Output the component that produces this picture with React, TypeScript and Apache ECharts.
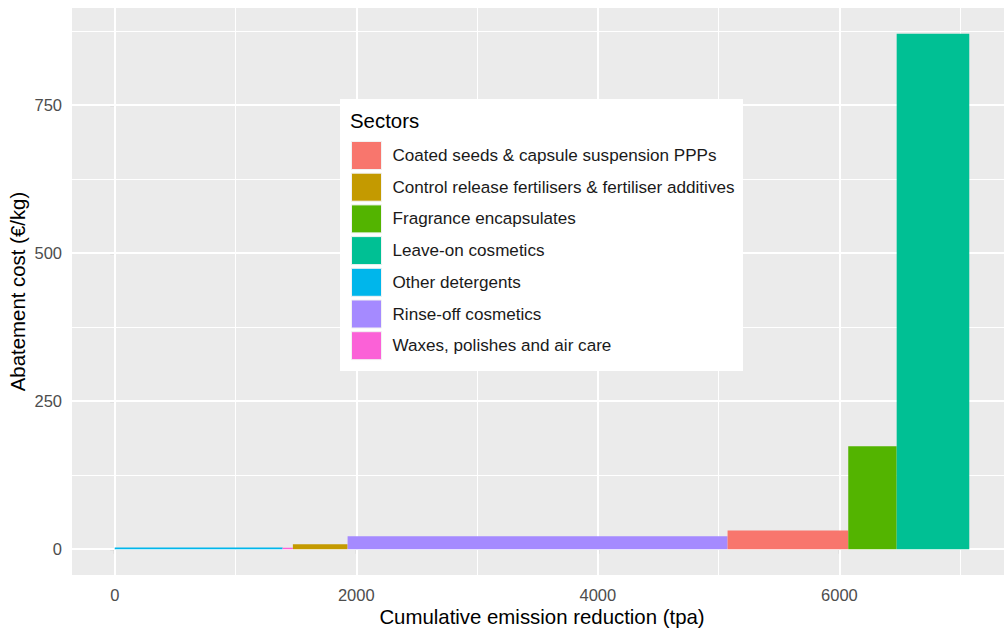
import React, { useEffect, useRef } from 'react';
import * as echarts from 'echarts';

// Sectors in merit order (left to right along the x axis)
const sectors = [
  'Other detergents',
  'Waxes, polishes and air care',
  'Control release fertilisers & fertiliser additives',
  'Rinse-off cosmetics',
  'Coated seeds & capsule suspension PPPs',
  'Fragrance encapsulates',
  'Leave-on cosmetics',
];
// Emission reduction of each sector (tpa) = bar width
const reductions = [1390, 85, 453, 3146, 999, 401, 601];
// Abatement cost (€/kg) = bar height
const costs = [3, 2.5, 8.5, 22, 31.5, 174, 870];

const legendOrder = [
  'Coated seeds & capsule suspension PPPs',
  'Control release fertilisers & fertiliser additives',
  'Fragrance encapsulates',
  'Leave-on cosmetics',
  'Other detergents',
  'Rinse-off cosmetics',
  'Waxes, polishes and air care',
];
const legendColors = ['#F8766D', '#C49A00', '#53B400', '#00C094', '#00B6EB', '#A58AFF', '#FB61D7'];

const xTicks = [0, 2000, 4000, 6000];
const xMinor = [1000, 3000, 5000, 7000];
const yTicks = [0, 250, 500, 750];
const yMinor = [125, 375, 625, 875];

const FONT = '"Liberation Sans", Arial, sans-serif';

export default function App() {
  const ref = useRef<HTMLDivElement>(null);

  useEffect(() => {
    if (!ref.current) return;
    const chart = echarts.init(ref.current, undefined, { renderer: 'svg' });

    const starts: number[] = [];
    let acc = 0;
    reductions.forEach((r) => {
      starts.push(acc);
      acc += r;
    });
    const xEnd = acc;
    const yTop = Math.max(...costs);
    const xMin = -0.05 * xEnd;
    const xMax = 1.05 * xEnd;
    const yMin = -0.05 * yTop;
    const yMax = 1.05 * yTop;

    const colorOf = (name: string) => legendColors[legendOrder.indexOf(name)];

    const barSeries = sectors.map((name, i) => ({
      type: 'custom',
      name,
      z: 3,
      itemStyle: { color: colorOf(name) },
      encode: { x: [0, 1], y: 2 },
      data: [[starts[i], starts[i] + reductions[i], costs[i]]],
      renderItem: (params: any, api: any) => {
        const p0 = api.coord([api.value(0), 0]);
        const p1 = api.coord([api.value(1), api.value(2)]);
        return {
          type: 'rect',
          shape: { x: p0[0], y: p1[1], width: p1[0] - p0[0], height: p0[1] - p1[1] },
          style: { fill: colorOf(name) },
        };
      },
    }));

    const major = { color: '#FFFFFF', width: 2, type: 'solid' };
    const minor = { color: '#FFFFFF', width: 1, type: 'solid' };

    const gridSeries = {
      type: 'line',
      name: '__grid',
      z: 1,
      data: [],
      silent: true,
      markLine: {
        z: 1,
        silent: true,
        symbol: ['none', 'none'],
        label: { show: false },
        emphasis: { disabled: true },
        animation: false,
        data: [
          ...yMinor.map((v) => ({ yAxis: v, lineStyle: minor })),
          ...xMinor.map((v) => ({ xAxis: v, lineStyle: minor })),
          ...yTicks.map((v) => ({ yAxis: v, lineStyle: major })),
          ...xTicks.map((v) => ({ xAxis: v, lineStyle: major })),
        ],
      },
    };

    const option: any = {
      animation: false,
      backgroundColor: '#FFFFFF',
      textStyle: { fontFamily: FONT },
      grid: {
        left: 72,
        top: 8,
        width: 940,
        height: 567,
        show: true,
        backgroundColor: '#EBEBEB',
        borderWidth: 0,
        containLabel: false,
        outerBoundsMode: 'none',
      },
      xAxis: {
        type: 'value',
        min: xMin,
        max: xMax,
        name: 'Cumulative emission reduction (tpa)',
        nameLocation: 'middle',
        nameGap: 32,
        nameMoveOverlap: false,
        nameTextStyle: { fontSize: 20.4, color: '#000000', fontFamily: FONT },
        axisLine: { show: false },
        axisTick: { show: true, customValues: xTicks, length: 4.5, lineStyle: { color: '#333333', width: 1.1 } },
        axisLabel: {
          customValues: xTicks,
          fontSize: 16.5,
          color: '#4D4D4D',
          margin: 11,
          fontFamily: FONT,
          formatter: (v: number) => String(v),
        },
        splitLine: { show: false },
      },
      yAxis: {
        type: 'value',
        min: yMin,
        max: yMax,
        name: 'Abatement cost (€/kg)',
        nameLocation: 'middle',
        nameGap: 44,
        nameMoveOverlap: false,
        nameTextStyle: { fontSize: 20.4, color: '#000000', fontFamily: FONT },
        axisLine: { show: false },
        axisTick: { show: true, customValues: yTicks, length: 4.5, lineStyle: { color: '#333333', width: 1.1 } },
        axisLabel: {
          customValues: yTicks,
          fontSize: 16.5,
          color: '#4D4D4D',
          margin: 10,
          fontFamily: FONT,
          formatter: (v: number) => String(v),
        },
        splitLine: { show: false },
      },
      legend: {
        data: legendOrder,
        orient: 'vertical',
        left: 351,
        top: 141,
        padding: 0,
        icon: 'rect',
        itemWidth: 30,
        itemHeight: 28,
        itemGap: 2.7,
        selectedMode: false,
        z: 6,
        itemStyle: { borderColor: '#F2F2F2', borderWidth: 1 },
        textStyle: { fontSize: 17.1, color: '#1A1A1A', fontFamily: FONT, padding: [0, 0, 0, 6] },
      },
      graphic: [
        {
          type: 'rect',
          z: 5,
          shape: { x: 340, y: 99, width: 403, height: 272 },
          style: { fill: '#FFFFFF' },
        },
        {
          type: 'text',
          z: 6,
          x: 350,
          y: 121,
          style: { text: 'Sectors', fontSize: 20.4, fill: '#000000', fontFamily: FONT, verticalAlign: 'middle' },
        },
      ],
      series: [gridSeries, ...barSeries],
    };

    chart.setOption(option);
    return () => chart.dispose();
  }, []);

  return (
    <div
      style={{
        position: 'fixed',
        left: 0,
        top: 0,
        width: 1004,
        height: 630,
        overflow: 'hidden',
        background: '#FFFFFF',
      }}
    >
      <div ref={ref} style={{ width: 1020, height: 630 }} />
    </div>
  );
}
